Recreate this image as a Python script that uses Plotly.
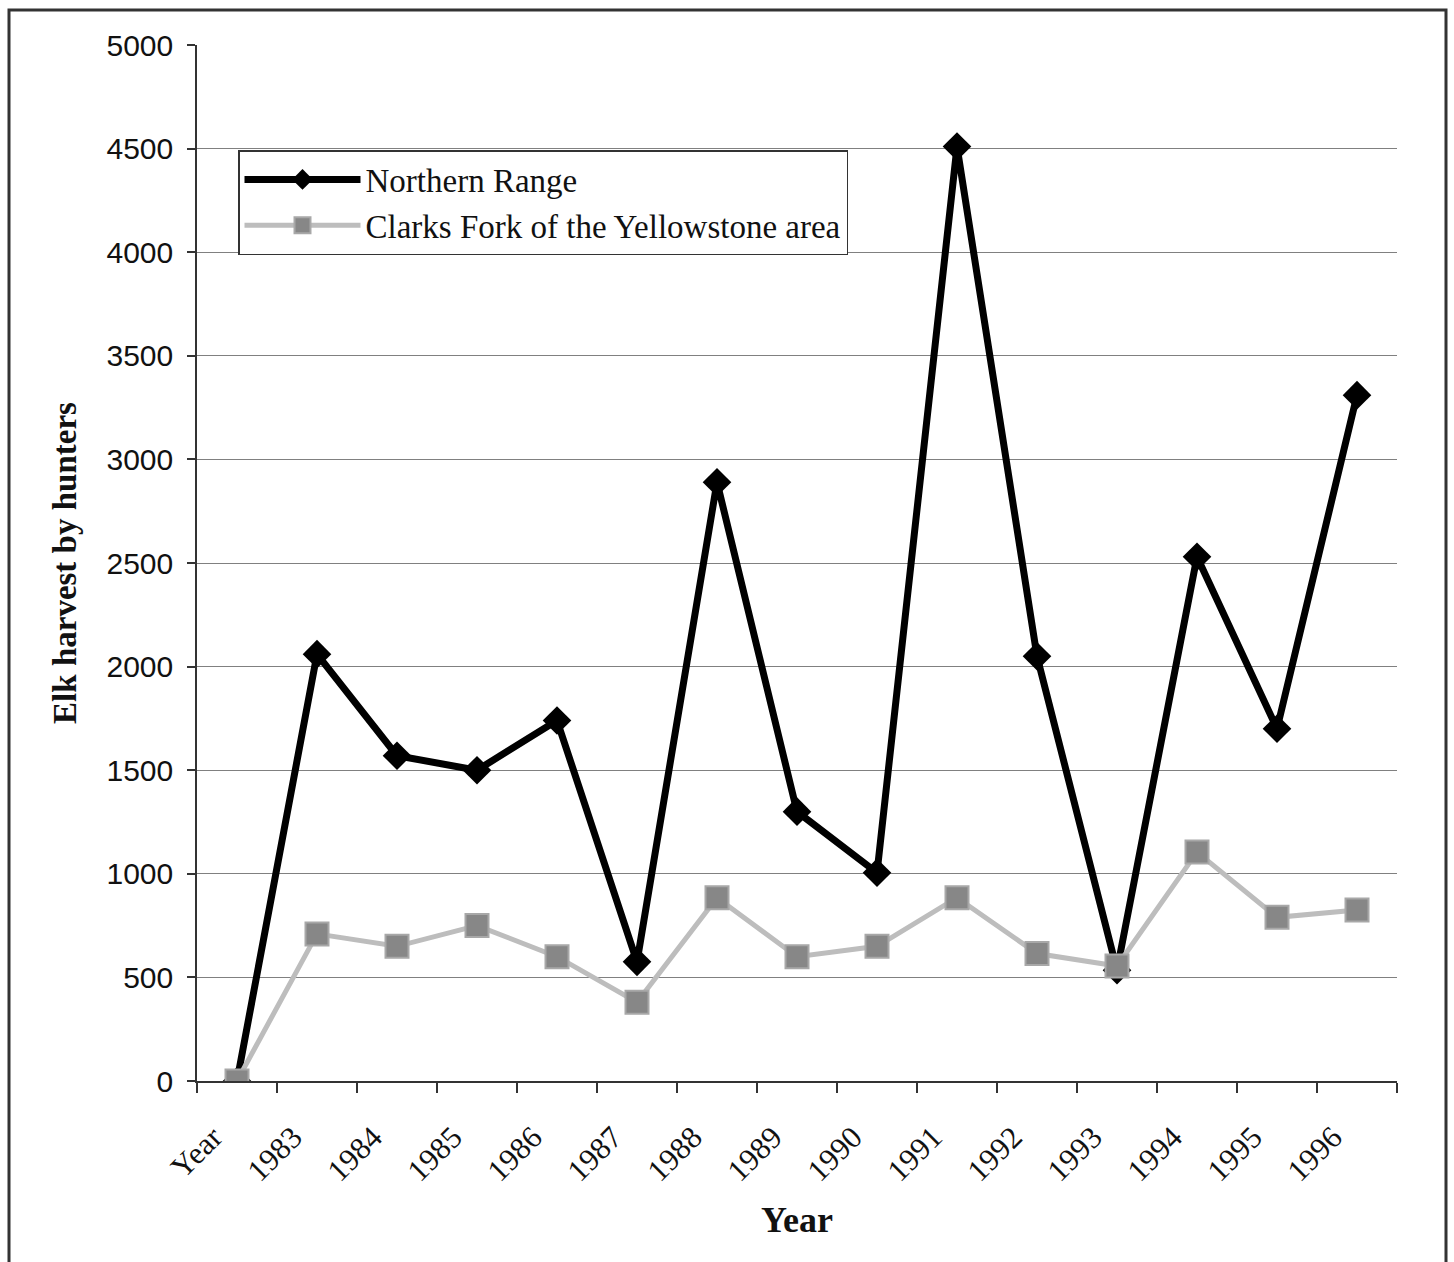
import plotly.graph_objects as go

# Elk harvest by hunters, Northern Range vs. Clarks Fork of the Yellowstone
categories = ["Year", "1983", "1984", "1985", "1986", "1987", "1988", "1989",
              "1990", "1991", "1992", "1993", "1994", "1995", "1996"]
northern_range = [0, 2060, 1570, 1500, 1740, 575, 2890, 1300, 1005, 4510,
                  2050, 535, 2530, 1700, 3310]
clarks_fork = [0, 710, 650, 750, 600, 380, 885, 600, 650, 885, 615, 555,
               1105, 790, 825]
y_ticks = [0, 500, 1000, 1500, 2000, 2500, 3000, 3500, 4000, 4500, 5000]

SERIF = "Liberation Serif, Times New Roman, serif"
SANS = "Liberation Sans, Arial, sans-serif"

fig = go.Figure()
fig.add_trace(go.Scatter(
    x=categories, y=northern_range, name="Northern Range",
    mode="lines+markers",
    line=dict(color="#000000", width=7),
    marker=dict(symbol="diamond", size=22, color="#000000"),
))
fig.add_trace(go.Scatter(
    x=categories, y=clarks_fork, name="Clarks Fork of the Yellowstone area",
    mode="lines+markers",
    line=dict(color="#bdbdbd", width=5),
    marker=dict(symbol="square", size=23, color="#878787",
                line=dict(color="#a8a8a8", width=2)),
))

# plot area spans 197..1397 px horizontally and 45..1081 px vertically
L, R, T, B = 197, 57, 45, 181
W, H = 1454, 1262
pw, ph = W - L - R, H - T - B


def px_x(x):
    return (x - L) / pw


def px_y(y):
    return (H - B - y) / ph


fig.update_layout(
    width=W, height=H,
    margin=dict(l=L, r=R, t=T, b=B, pad=0),
    paper_bgcolor="white", plot_bgcolor="white",
    showlegend=True,
    legend=dict(
        x=px_x(238), y=px_y(150), xanchor="left", yanchor="top",
        bordercolor="#333333", borderwidth=1.5, bgcolor="white",
        font=dict(family=SERIF, size=33, color="#111111"),
        itemwidth=116, tracegroupgap=0,
    ),
    xaxis=dict(
        type="category", range=[-0.5, len(categories) - 0.5],
        showline=True, linecolor="#333333", linewidth=1.5,
        ticks="outside", tickson="boundaries", ticklen=10,
        tickcolor="#333333", tickwidth=1.5,
        tickangle=-45, showgrid=False,
        ticklabelstandoff=24, ticklabelshift=-24,
        tickfont=dict(family=SERIF, size=31, color="#111111"),
        title=dict(text="<b>Year</b>", standoff=20,
                   font=dict(family=SERIF, size=36, color="#111111")),
    ),
    yaxis=dict(
        range=[0, 5000], tickvals=y_ticks,
        showline=True, linecolor="#333333", linewidth=1.5,
        ticks="outside", ticklen=8, tickcolor="#333333", tickwidth=1.5,
        ticklabelstandoff=8,
        showgrid=True, gridcolor="#808080", gridwidth=1,
        zeroline=False,
        tickfont=dict(family=SANS, size=30, color="#111111"),
        title=dict(text="<b>Elk harvest by hunters</b>", standoff=20,
                   font=dict(family=SERIF, size=33, color="#111111")),
    ),
    shapes=[dict(
        type="rect", xref="paper", yref="paper",
        x0=px_x(9), x1=px_x(1446), y0=px_y(1275), y1=px_y(10),
        line=dict(color="#333333", width=3), layer="below",
    )],
)

fig.write_html("out.html")
